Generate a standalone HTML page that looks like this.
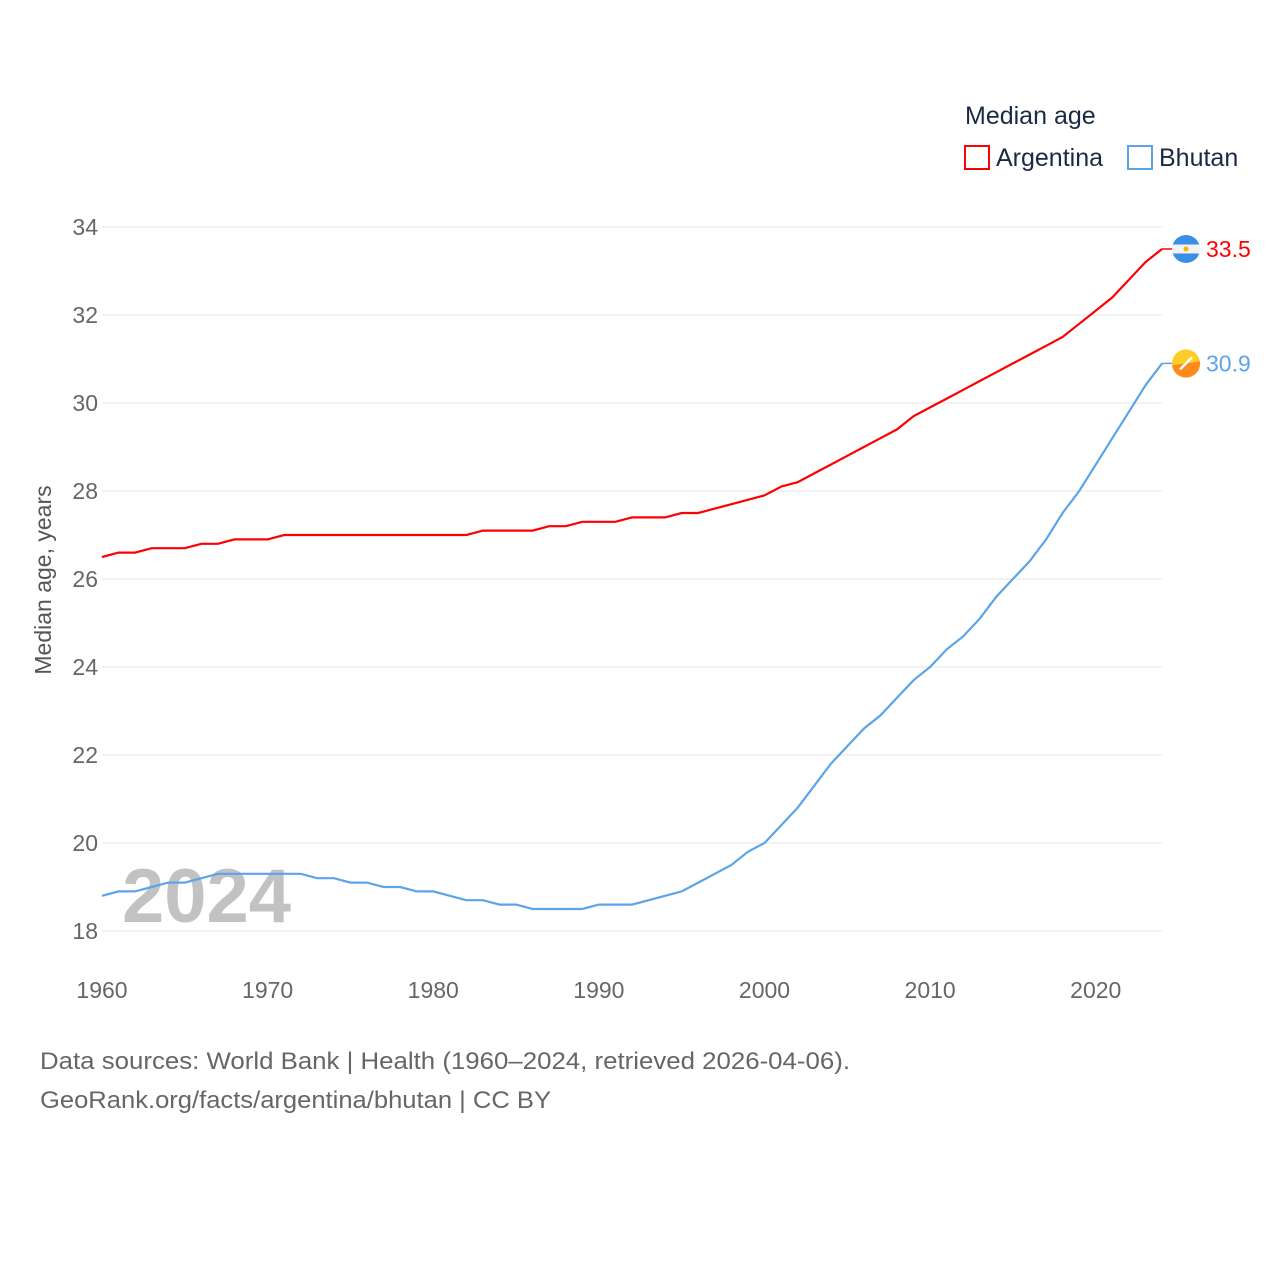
<!DOCTYPE html>
<html><head><meta charset="utf-8"><style>
body{margin:0;background:#fff;font-family:"Liberation Sans",sans-serif}
svg text{font-family:"Liberation Sans",sans-serif}
</style></head><body>
<svg id="chart" width="1280" height="1280" xmlns="http://www.w3.org/2000/svg">
<g id="grid"></g>
<g id="yt"></g>
<g id="xt"></g>
<text x="122" y="922" font-size="76" font-weight="bold" fill="#bbb" fill-opacity="0.9">2024</text>
<g id="lines"></g>
<text transform="translate(51,580) rotate(-90)" text-anchor="middle" font-size="23" fill="#555">Median age, years</text>
<g>
<text x="965" y="124" font-size="25" fill="#1a2a44">Median age</text>
<rect x="965" y="146" width="24" height="23" fill="none" stroke="#f00" stroke-width="2"/>
<text x="996" y="166" font-size="25" fill="#1a2a44">Argentina</text>
<rect x="1128" y="146" width="24" height="23" fill="none" stroke="#5ba4e8" stroke-width="2"/>
<text x="1159" y="166" font-size="25" fill="#1a2a44">Bhutan</text>
</g>
<text x="40" y="1069" font-size="24" fill="#666" textLength="810" lengthAdjust="spacingAndGlyphs">Data sources: World Bank | Health (1960–2024, retrieved 2026-04-06).</text>
<text x="40" y="1108" font-size="24" fill="#666" textLength="511" lengthAdjust="spacingAndGlyphs">GeoRank.org/facts/argentina/bhutan | CC BY</text>
</svg>
<script>
const years=[];for(let y=1960;y<=2024;y++)years.push(y);
const argentina=[26.5,26.6,26.6,26.7,26.7,26.7,26.8,26.8,26.9,26.9,26.9,27.0,27.0,27.0,27.0,27.0,27.0,27.0,27.0,27.0,27.0,27.0,27.0,27.1,27.1,27.1,27.1,27.2,27.2,27.3,27.3,27.3,27.4,27.4,27.4,27.5,27.5,27.6,27.7,27.8,27.9,28.1,28.2,28.4,28.6,28.8,29.0,29.2,29.4,29.7,29.9,30.1,30.3,30.5,30.7,30.9,31.1,31.3,31.5,31.8,32.1,32.4,32.8,33.2,33.5];
const bhutan=[18.8,18.9,18.9,19.0,19.1,19.1,19.2,19.3,19.3,19.3,19.3,19.3,19.3,19.2,19.2,19.1,19.1,19.0,19.0,18.9,18.9,18.8,18.7,18.7,18.6,18.6,18.5,18.5,18.5,18.5,18.6,18.6,18.6,18.7,18.8,18.9,19.1,19.3,19.5,19.8,20.0,20.4,20.8,21.3,21.8,22.2,22.6,22.9,23.3,23.7,24.0,24.4,24.7,25.1,25.6,26.0,26.4,26.9,27.5,28.0,28.6,29.2,29.8,30.4,30.9];
const yTicks=[18,20,22,24,26,28,30,32,34];
const xTicks=[1960,1970,1980,1990,2000,2010,2020];
const NS="http://www.w3.org/2000/svg";
const X=y=>102+(y-1960)*(1162-102)/64;
const Y=v=>931-(v-18)*44;
function mk(t,a,p){const e=document.createElementNS(NS,t);for(const k in a)e.setAttribute(k,a[k]);p.appendChild(e);return e;}
const grid=document.getElementById('grid'),yt=document.getElementById('yt'),xt=document.getElementById('xt'),lines=document.getElementById('lines');
yTicks.forEach(v=>{
const l=mk('line',{x1:102,x2:1162,y1:Y(v),y2:Y(v),stroke:'#e6e6e6','stroke-width':1},grid);


const t=mk('text',{x:98,y:Y(v)+8,'text-anchor':'end','font-size':23,fill:'#666'},yt);t.textContent=v;


});
xTicks.forEach(v=>{
const t=mk('text',{x:X(v),y:998,'text-anchor':'middle','font-size':23,fill:'#666'},xt);t.textContent=v;


});
function series(vals,color,name){
const p=mk('path',{d:vals.map((v,i)=>(i?'L':'M')+X(years[i]).toFixed(1)+','+Y(v).toFixed(1)).join(''),fill:'none',stroke:color,'stroke-width':2.2},lines);


const last=vals[vals.length-1],ly=Y(last);
const c=mk('line',{x1:X(2024),x2:1174,y1:ly,y2:ly,stroke:color,'stroke-width':1.5},lines);


return ly;
}
const ay=series(argentina,'#f00','argentina');
const by=series(bhutan,'#5ba4e8','bhutan');
const fa=mk('g',{},lines);


mk('circle',{cx:1186,cy:ay,r:14,fill:'#3a8ee6'},fa);
mk('rect',{x:1172,y:ay-4.5,width:28,height:9,fill:'#f3f3f3'},fa);
mk('circle',{cx:1186,cy:ay,r:2.5,fill:'#f5b800'},fa);
const fb=mk('g',{},lines);


mk('circle',{cx:1186,cy:by,r:14,fill:'#ffcd2a'},fb);
mk('path',{d:`M1172,${by+2}A14,14 0 0 0 1200,${by-2}Z`,fill:'#ff8a1c'},fb);
mk('path',{d:`M1180,${by+6}L1192,${by-6}`,stroke:'#fff','stroke-width':2.5},fb);
const ta=mk('text',{x:1206,y:ay+8,'font-size':23,fill:'#f00'},lines);ta.textContent=argentina[argentina.length-1].toFixed(1);


const tb=mk('text',{x:1206,y:by+8,'font-size':23,fill:'#5ba4e8'},lines);tb.textContent=bhutan[bhutan.length-1].toFixed(1);


</script>
</body></html>
